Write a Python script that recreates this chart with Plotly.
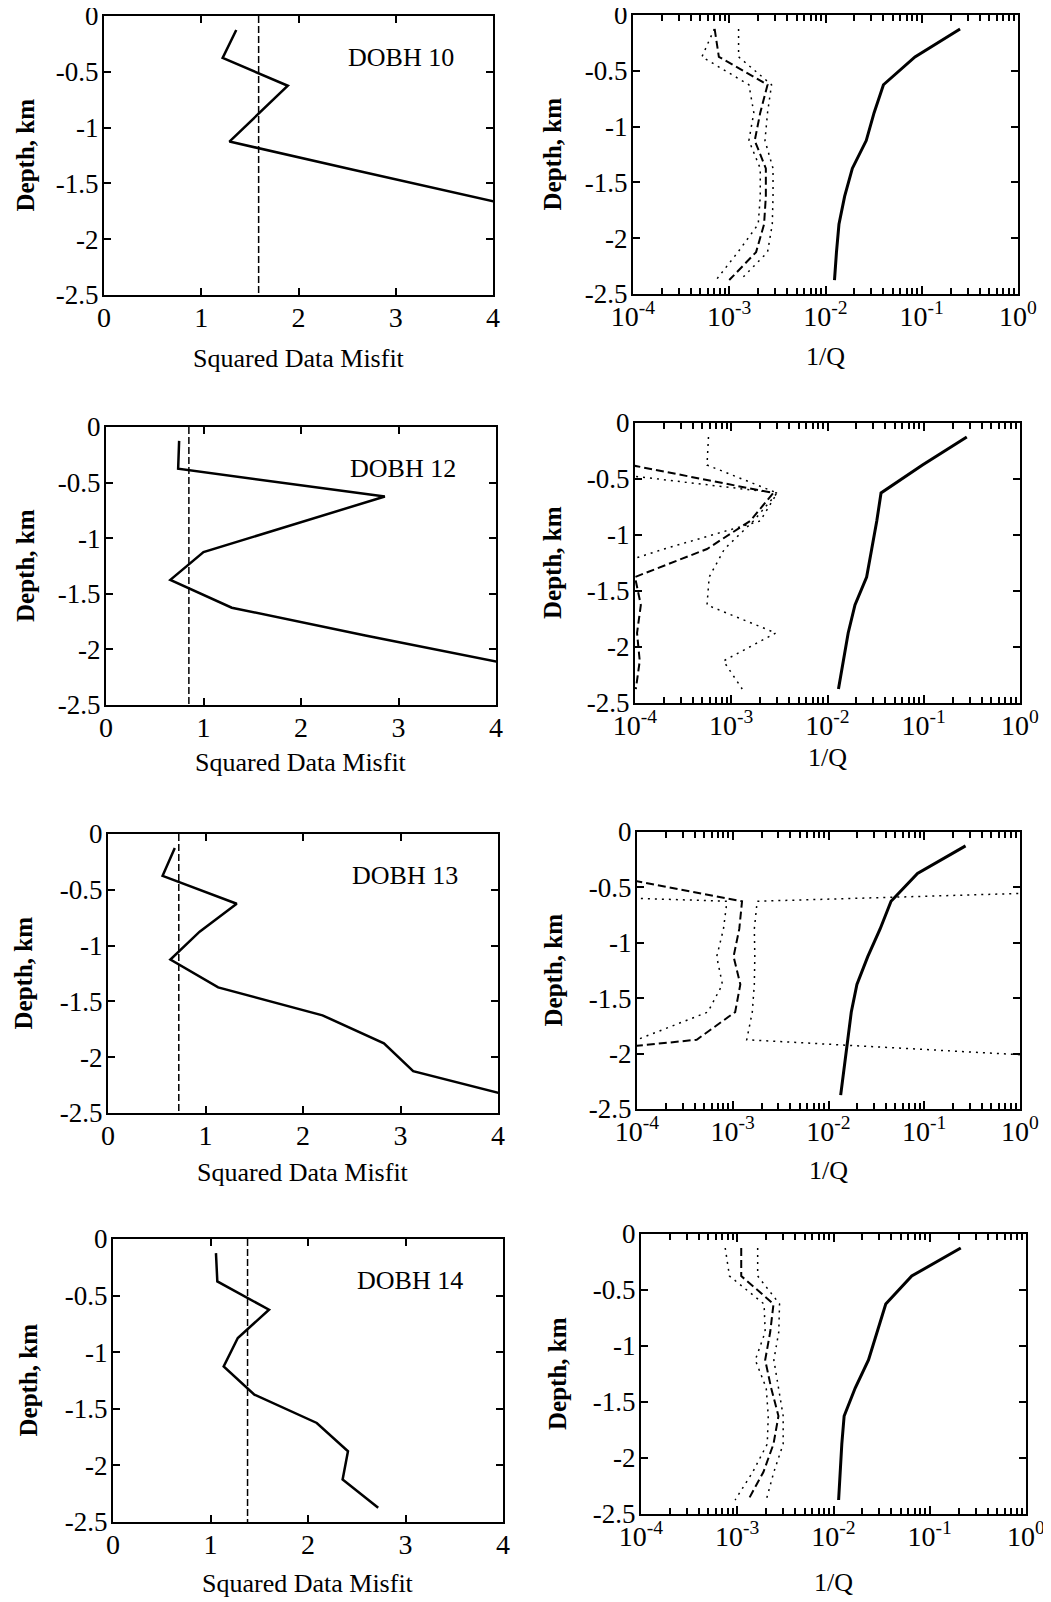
import plotly.graph_objects as go

# page body adds an 8px margin: the figure is drawn 8px in from the window corner
PAGE_OFF = 8
WIN_W, WIN_H = 1051, 1602
W, H = WIN_W - PAGE_OFF, WIN_H - PAGE_OFF
FONT = "Liberation Serif, Times New Roman, serif"

# ---------------- data ----------------
DEPTH = [-0.125, -0.375, -0.625, -0.875, -1.125, -1.375, -1.625, -1.875, -2.125, -2.375]
STATIONS = ["DOBH 10", "DOBH 12", "DOBH 13", "DOBH 14"]

# squared data misfit vs depth (solid) and target misfit (dashed vertical)
misfit_10 = [1.36, 1.22, 1.89, 1.59, 1.29, 2.55, 3.82, 5.10]
misfit_12 = [0.75, 0.74, 2.86, 1.92, 1.00, 0.66, 1.29, 2.66, 4.09]
misfit_13 = [0.685, 0.56, 1.32, 0.94, 0.64, 1.13, 2.20, 2.83, 3.13, 4.25]
misfit_14 = [1.056, 1.07, 1.60, 1.28, 1.135, 1.45, 2.09, 2.41, 2.355, 2.72]
target_misfit = [1.59, 0.85, 0.726, 1.38]

# 1/Q profiles: solid, dashed, dotted upper, dotted lower
q_solid_10 = [0.25, 0.085, 0.040, 0.032, 0.0265, 0.019, 0.0158, 0.0138, 0.013, 0.0124]
q_dash_10 = [7.05e-4, 7.8e-4, 2.5e-3, 2.1e-3, 1.84e-3, 2.4e-3, 2.4e-3, 2.3e-3, 1.9e-3, 1.0e-3]
q_up_10 = [1.25e-3, 1.25e-3, 2.75e-3, 2.5e-3, 2.35e-3, 2.85e-3, 2.85e-3, 2.8e-3, 2.5e-3, 1.3e-3]
q_lo_10 = [7.0e-4, 5.2e-4, 1.6e-3, 1.8e-3, 1.6e-3, 2.1e-3, 2.1e-3, 2.0e-3, 1.23e-3, 7.3e-4]

q_solid_12 = [0.28, 0.097, 0.036, 0.0325, 0.0288, 0.0255, 0.0193, 0.0164, 0.0146, 0.013]
q_dash_12 = [1e-6, 9e-5, 2.73e-3, 1.57e-3, 5.6e-4, 1.0e-4, 1.15e-4, 1.05e-4, 1.12e-4, 1.02e-4]
q_up_12 = [5.8e-4, 5.6e-4, 3.0e-3, 1.7e-3, 8.5e-4, 5.9e-4, 5.6e-4, 2.9e-3, 8.3e-4, 1.3e-3]
q_lo_12 = [1e-5, 1e-5, 3.0e-3, 2.0e-3, 2.0e-4, 2.5e-5, 1e-5, 1e-5, 1e-5, 1e-5]

q_solid_13 = [0.27, 0.085, 0.045, 0.0346, 0.0257, 0.0198, 0.0173, 0.0159, 0.0147, 0.0134]
q_dash_13 = [1e-6, 3.8e-5, 1.25e-3, 1.17e-3, 1.02e-3, 1.2e-3, 1.06e-3, 4.2e-4, 6e-7, 1e-7]
q_up_13 = [1e7, 1e7, 1.8e-3, 1.68e-3, 1.7e-3, 1.68e-3, 1.6e-3, 1.4e-3, 270, 270]
q_lo_13 = [1e-12, 1e-12, 8.7e-4, 8.0e-4, 6.8e-4, 7.8e-4, 5.5e-4, 1.0e-4, 1e-12, 1e-12]

q_solid_14 = [0.21, 0.065, 0.0349, 0.0282, 0.0231, 0.0168, 0.0129, 0.0122, 0.0117, 0.0113]
q_dash_14 = [1.1e-3, 1.1e-3, 2.38e-3, 2.2e-3, 1.95e-3, 2.25e-3, 2.68e-3, 2.38e-3, 1.87e-3, 1.3e-3]
q_up_14 = [1.63e-3, 1.63e-3, 2.75e-3, 2.7e-3, 2.4e-3, 2.7e-3, 3.0e-3, 3.0e-3, 2.4e-3, 2.0e-3]
q_lo_14 = [7.5e-4, 8.3e-4, 1.9e-3, 1.95e-3, 1.54e-3, 2.0e-3, 2.1e-3, 2.05e-3, 1.45e-3, 9.5e-4]

misfits = [misfit_10, misfit_12, misfit_13, misfit_14]
q_solid = [q_solid_10, q_solid_12, q_solid_13, q_solid_14]
q_dash = [q_dash_10, q_dash_12, q_dash_13, q_dash_14]
q_up = [q_up_10, q_up_12, q_up_13, q_up_14]
q_lo = [q_lo_10, q_lo_12, q_lo_13, q_lo_14]

Y_TICKS = [0, -0.5, -1, -1.5, -2, -2.5]
Y_TICKTEXT = ["0", "-0.5", "-1", "-1.5", "-2", "-2.5"]
X_TICKS_LIN = [0, 1, 2, 3, 4]
X_TICKS_LOG = [1e-4, 1e-3, 1e-2, 1e-1, 1e0]
X_TICKTEXT_LOG = ["10<sup>-4</sup>", "10<sup>-3</sup>", "10<sup>-2</sup>", "10<sup>-1</sup>", "10<sup>0</sup>"]
MINOR_LOG = [k * 10.0 ** e for e in range(-4, 0) for k in range(2, 10)]

# ---------------- layout geometry (window pixels) ----------------
LEFT_BOX = [(104, 493, 16, 295), (106, 496, 427, 705), (108, 498, 834, 1113), (113, 503, 1239, 1522)]
RIGHT_BOX = [(633, 1018, 15, 294), (635, 1020, 423, 703), (637, 1020, 832, 1109), (641, 1026, 1234, 1514)]
LEFT_XT_GAP = [63, 57, 59, 61]
RIGHT_XT_GAP = [63, 54, 61, 68]
LEFT_YT_X = [25, 25, 23, 28]
RIGHT_YT_X = [552, 553, 553, 557]


def px(x):
    return (x - PAGE_OFF) / W


def py(y):
    return 1 - (y - PAGE_OFF) / H


def dom(box):
    x0, x1, y0, y1 = box
    return [px(x0), px(x1)], [py(y1), py(y0)]


fig = go.Figure()
layout = dict(
    width=W, height=H, autosize=False,
    margin=dict(l=0, r=0, t=0, b=0, pad=0, autoexpand=False),
    paper_bgcolor="white", plot_bgcolor="white", showlegend=False,
    font=dict(family=FONT, color="black"),
)
annotations = []

axis_common = dict(
    showline=True, linecolor="black", linewidth=2, mirror="ticks",
    ticks="inside", tickcolor="black", tickwidth=1.5,
    showgrid=False, zeroline=False, automargin=False, ticklabeloverflow="allow",
)

for i, st in enumerate(STATIONS):
    kl, kr = 2 * i + 1, 2 * i + 2
    xl = "x" if kl == 1 else f"x{kl}"
    yl = "y" if kl == 1 else f"y{kl}"
    xr, yr = f"x{kr}", f"y{kr}"

    # ---- left panel: misfit ----
    m = misfits[i]
    fig.add_trace(go.Scatter(x=m, y=DEPTH[:len(m)], mode="lines", xaxis=xl, yaxis=yl,
                             line=dict(color="black", width=2.5)))
    fig.add_trace(go.Scatter(x=[target_misfit[i], target_misfit[i]], y=[Y_TICKS[0], Y_TICKS[-1]],
                             mode="lines", xaxis=xl, yaxis=yl,
                             line=dict(color="black", width=1.5, dash="7px,3px")))
    dx, dy = dom(LEFT_BOX[i])
    layout["xaxis" if kl == 1 else f"xaxis{kl}"] = dict(
        axis_common, domain=dx, anchor=yl, range=[0, 4], tickmode="array",
        tickvals=X_TICKS_LIN, ticktext=[str(v) for v in X_TICKS_LIN], ticklen=7,
        ticklabelstandoff=-4, tickfont=dict(size=28, family=FONT))
    layout["yaxis" if kl == 1 else f"yaxis{kl}"] = dict(
        axis_common, domain=dy, anchor=xl, range=[-2.5, 0], tickmode="array",
        tickvals=Y_TICKS, ticktext=Y_TICKTEXT, ticklen=7,
        ticklabelstandoff=-2, tickfont=dict(size=27, family=FONT))
    annotations.append(dict(text=st, x=3.05, y=-0.37, xref=xl, yref=yl, showarrow=False,
                            xanchor="center", yanchor="middle", font=dict(size=26, family=FONT)))
    x0, x1, y0, y1 = LEFT_BOX[i]
    annotations.append(dict(text="Squared Data Misfit", x=px((x0 + x1) / 2), y=py(y1 + LEFT_XT_GAP[i]),
                            xref="paper", yref="paper", showarrow=False, xanchor="center",
                            yanchor="middle", font=dict(size=26, family=FONT)))
    annotations.append(dict(text="<b>Depth, km</b>", x=px(LEFT_YT_X[i]), y=py((y0 + y1) / 2),
                            xref="paper", yref="paper", showarrow=False, textangle=-90,
                            xanchor="center", yanchor="middle", font=dict(size=25, family=FONT)))

    # ---- right panel: 1/Q ----
    fig.add_trace(go.Scatter(x=q_up[i], y=DEPTH, mode="lines", xaxis=xr, yaxis=yr,
                             line=dict(color="black", width=1.5, dash="2px,5px")))
    fig.add_trace(go.Scatter(x=q_lo[i], y=DEPTH, mode="lines", xaxis=xr, yaxis=yr,
                             line=dict(color="black", width=1.5, dash="2px,5px")))
    fig.add_trace(go.Scatter(x=q_dash[i], y=DEPTH, mode="lines", xaxis=xr, yaxis=yr,
                             line=dict(color="black", width=2, dash="8px,4px")))
    fig.add_trace(go.Scatter(x=q_solid[i], y=DEPTH, mode="lines", xaxis=xr, yaxis=yr,
                             line=dict(color="black", width=3)))
    dx, dy = dom(RIGHT_BOX[i])
    layout[f"xaxis{kr}"] = dict(
        axis_common, domain=dx, anchor=yr, type="log", range=[-4, 0], tickmode="array",
        tickvals=X_TICKS_LOG, ticktext=X_TICKTEXT_LOG, ticklen=8,
        ticklabelstandoff=-4, tickfont=dict(size=28, family=FONT),
        minor=dict(tickmode="array", tickvals=MINOR_LOG, ticks="inside", ticklen=6,
                   tickcolor="black", tickwidth=1.5, showgrid=False))
    layout[f"yaxis{kr}"] = dict(
        axis_common, domain=dy, anchor=xr, range=[-2.5, 0], tickmode="array",
        tickvals=Y_TICKS, ticktext=Y_TICKTEXT, ticklen=7,
        ticklabelstandoff=-2, tickfont=dict(size=27, family=FONT))
    x0, x1, y0, y1 = RIGHT_BOX[i]
    annotations.append(dict(text="1/Q", x=px((x0 + x1) / 2), y=py(y1 + RIGHT_XT_GAP[i]),
                            xref="paper", yref="paper", showarrow=False, xanchor="center",
                            yanchor="middle", font=dict(size=26, family=FONT)))
    annotations.append(dict(text="<b>Depth, km</b>", x=px(RIGHT_YT_X[i]), y=py((y0 + y1) / 2),
                            xref="paper", yref="paper", showarrow=False, textangle=-90,
                            xanchor="center", yanchor="middle", font=dict(size=25, family=FONT)))

layout["annotations"] = annotations
fig.update_layout(**layout)
fig.write_html("out.html")
